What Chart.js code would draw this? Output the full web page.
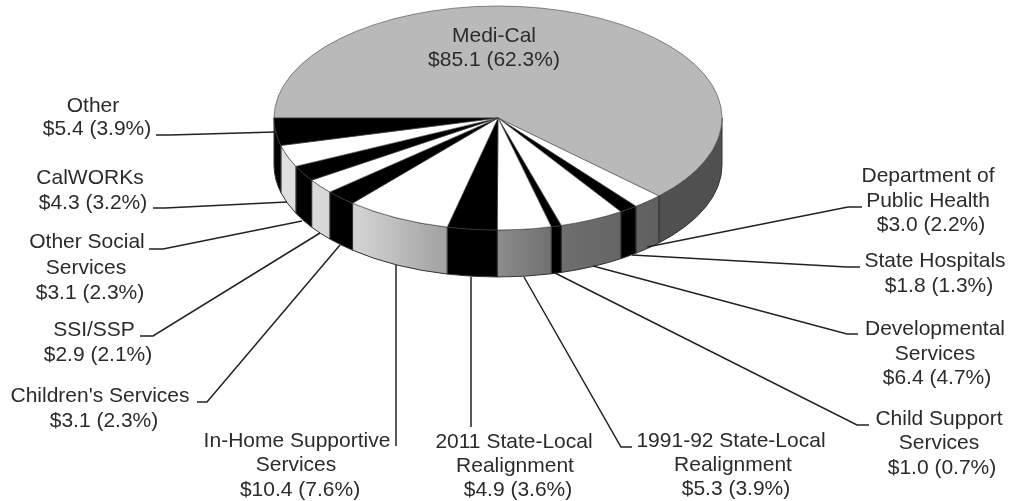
<!DOCTYPE html>
<html>

<head>
    <meta charset="utf-8">
    <script src="https://cdn.jsdelivr.net/npm/chart.js@4/dist/chart.umd.min.js"></script>
    <style>
        html, body { margin: 0; padding: 0; background: #fff; }
        #chart-container { width: 1012px; height: 501px; position: relative; }
    </style>
</head>

<body>
    <div id="chart-container">
        <canvas id="budgetPie" width="1012" height="501"></canvas>
    </div>
    <script>
        // data, clockwise from the 9 o'clock position
        const categories = [
            ['Medi-Cal'],
            ['Department of', 'Public Health'],
            ['State Hospitals'],
            ['Developmental', 'Services'],
            ['Child Support', 'Services'],
            ['1991-92 State-Local', 'Realignment'],
            ['2011 State-Local', 'Realignment'],
            ['In-Home Supportive', 'Services'],
            ["Children's Services"],
            ['SSI/SSP'],
            ['Other Social', 'Services'],
            ['CalWORKs'],
            ['Other']
        ];
        const amounts = [85.1, 3.0, 1.8, 6.4, 1.0, 5.3, 4.9, 10.4, 3.1, 2.9, 3.1, 4.3, 5.4];
        const percents = [62.3, 2.2, 1.3, 4.7, 0.7, 3.9, 3.6, 7.6, 2.3, 2.1, 2.3, 3.2, 3.9];

        // slice colours
        const GREY = '#b9b9b9', BLACK = '#000000', WHITE = '#ffffff';
        const topColors = [GREY, WHITE, BLACK, WHITE, BLACK, WHITE, BLACK, WHITE, BLACK, WHITE, BLACK, WHITE, BLACK];

        // 3d look
        const RADIUS = 224;
        const SQUASH = 0.5;
        const DEPTH = 47;
        const CENTER_Y = 118;

        // label layout: text centre x per line, baseline y per line
        const labelX = [
            [494, 494], [928, 928, 931], [935, 939], [935, 935, 937], [939, 939, 942], [731, 733, 736],
            [514, 515, 518], [297, 296, 300], [100, 104], [94, 98], [87, 86, 90], [90, 93], [93, 97]
        ];
        const labelY = [
            [42, 66], [182, 207, 231], [267, 292], [335, 360, 384], [425, 449, 474], [447, 471, 495],
            [448, 472, 496], [447, 471, 496], [402, 427], [336, 361], [248, 274, 299], [184, 209], [112, 135]
        ];
        // leader lines, [x, y] points from the label to the pie
        const leaders = [
            null,
            [[862, 207], [848, 207], [647, 247]],
            [[860, 267], [847, 267], [632, 255]],
            [[858, 334], [847, 334], [593, 266]],
            [[869, 425], [857, 425], [555, 273]],
            [[632, 447], [621, 447], [524, 277]],
            [[471, 427], [471, 277]],
            [[396, 446], [396, 265]],
            [[197, 402], [207, 402], [340, 245]],
            [[140, 336], [153, 336], [320, 233]],
            [[149, 249], [163, 249], [302, 221]],
            [[153, 208], [165, 208], [287, 202]],
            [[156, 135], [170, 135], [275, 132]]
        ];

        function wallFill(ctx, cx, index) {
            if (topColors[index] === BLACK) return BLACK;
            if (index === 0) return '#505050';
            const g = ctx.createLinearGradient(cx - RADIUS, 0, cx + RADIUS, 0);
            g.addColorStop(0, '#e2e2e2');
            g.addColorStop(0.2, '#d0d0d0');
            g.addColorStop(0.38, '#a2a2a2');
            g.addColorStop(0.5, '#8c8c8c');
            g.addColorStop(0.62, '#707070');
            g.addColorStop(0.82, '#626262');
            g.addColorStop(1, '#555555');
            return g;
        }

        const pie3d = {
            id: 'pie3d',
            beforeDatasetsDraw(chart) {
                const ctx = chart.ctx;
                const arcs = chart.getDatasetMeta(0).data;
                // walls, only the part of each slice facing the viewer
                arcs.forEach((arc, i) => {
                    const a0 = Math.max(arc.startAngle, 0);
                    const a1 = Math.min(arc.endAngle, Math.PI);
                    if (a1 <= a0) return;
                    const ry = arc.outerRadius * SQUASH;
                    ctx.beginPath();
                    ctx.ellipse(arc.x, CENTER_Y, arc.outerRadius, ry, 0, a0, a1);
                    ctx.ellipse(arc.x, CENTER_Y + DEPTH, arc.outerRadius, ry, 0, a1, a0, true);
                    ctx.closePath();
                    ctx.fillStyle = wallFill(ctx, arc.x, i);
                    ctx.fill();
                    ctx.lineWidth = 1;
                    ctx.strokeStyle = '#333333';
                    ctx.stroke();
                });
                // squash the library's own arcs onto the top face
                const cy = arcs[0].y;
                ctx.save();
                ctx.translate(0, CENTER_Y);
                ctx.scale(1, SQUASH);
                ctx.translate(0, -cy);
            },
            afterDatasetsDraw(chart) {
                const ctx = chart.ctx;
                ctx.restore();

                ctx.strokeStyle = '#222222';
                ctx.lineWidth = 1.5;
                leaders.forEach(points => {
                    if (!points) return;
                    ctx.beginPath();
                    points.forEach((p, i) => i ? ctx.lineTo(p[0], p[1]) : ctx.moveTo(p[0], p[1]));
                    ctx.stroke();
                });

                ctx.fillStyle = '#2b2b2b';
                ctx.font = '21px "Liberation Sans", Arial, sans-serif';
                ctx.textAlign = 'center';
                ctx.textBaseline = 'alphabetic';
                categories.forEach((lines, i) => {
                    const text = lines.concat('$' + amounts[i].toFixed(1) + ' (' + percents[i].toFixed(1) + '%)');
                    text.forEach((line, j) => ctx.fillText(line, labelX[i][j], labelY[i][j]));
                });
            }
        };

        new Chart(document.getElementById('budgetPie').getContext('2d'), {
            type: 'pie',
            data: {
                labels: categories.map(c => c.join(' ')),
                datasets: [{
                    data: amounts,
                    backgroundColor: topColors,
                    borderColor: '#444444',
                    borderWidth: 0.8,
                    radius: RADIUS,
                    clip: false
                }]
            },
            options: {
                responsive: false,
                animation: false,
                rotation: -90,
                layout: { padding: { right: 16 } },
                plugins: {
                    legend: { display: false },
                    tooltip: { enabled: false }
                }
            },
            plugins: [pie3d]
        });
    </script>
</body>

</html>
